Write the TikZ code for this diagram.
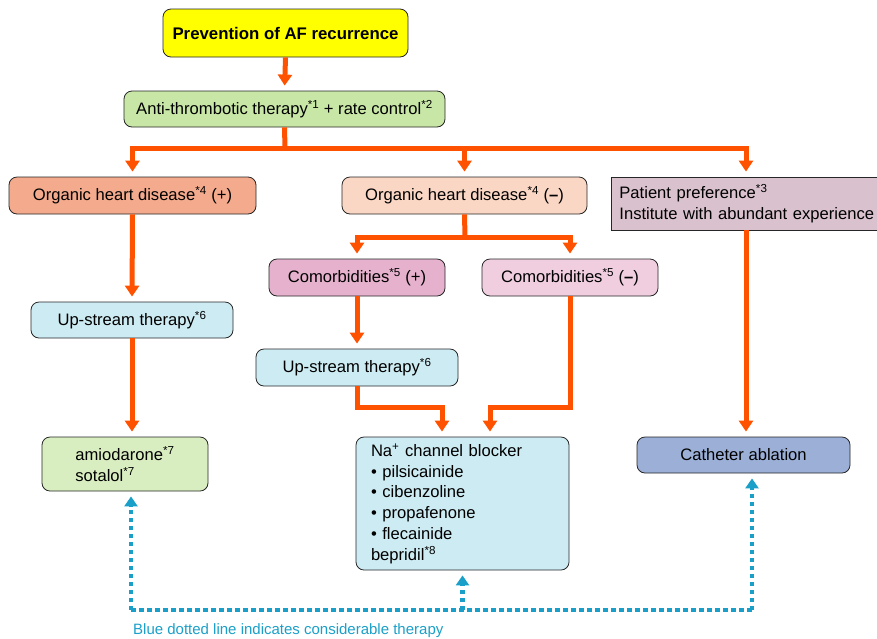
\documentclass[tikz,border=0pt]{standalone}
\usepackage{fontspec}
\setmainfont{Liberation Sans}
\usetikzlibrary{arrows.meta}
\definecolor{orng}{HTML}{FF5200}
\definecolor{blu}{HTML}{1AA0C8}
\definecolor{cYel}{HTML}{FFFF00}
\definecolor{cAnti}{HTML}{C8E6A5}
\definecolor{cOrgP}{HTML}{F4AA8C}
\definecolor{cOrgM}{HTML}{FAD6C4}
\definecolor{cPat}{HTML}{D9C2CE}
\definecolor{cComP}{HTML}{E6B1CD}
\definecolor{cComM}{HTML}{F0CEE0}
\definecolor{cUp}{HTML}{CDEBF2}
\definecolor{cAmi}{HTML}{D9EEC0}
\definecolor{cCath}{HTML}{9BAFD7}
\newcommand{\sps}[1]{\textsuperscript{*#1}}
\begin{document}
\begin{tikzpicture}[x=1pt,y=-1pt,
  box/.style={draw=black!85, line width=0.8pt, rounded corners=8pt, inner sep=0pt,
    font=\fontsize{16.6}{20.8}\selectfont},
  oarrow/.style={draw=orng, line width=5pt, shorten >=5pt,
    -{Triangle[length=11pt,width=14pt]}},
  oline/.style={draw=orng, line width=5pt},
  bline/.style={draw=blu, line width=4.5pt, dash pattern=on 4.5pt off 3.5pt},
  barrow/.style={bline, shorten >=5pt, -{Triangle[length=10pt,width=13pt]}}
]
\useasboundingbox (0,0) rectangle (877,638);

\node[box, fill=cYel, minimum width=245pt, minimum height=48pt,
  font=\fontsize{16.8}{19}\selectfont\bfseries] (top) at (285.5,33) {Prevention of AF recurrence};
\node[box, fill=cAnti, minimum width=321pt, minimum height=36pt] (anti) at (284.5,109)
  {Anti-thrombotic therapy\sps{1} + rate control\sps{2}};

\node[box, fill=cOrgP, minimum width=247pt, minimum height=37pt] (orgp) at (132.5,195.5)
  {Organic heart disease\sps{4} (+)};
\node[box, fill=cOrgM, minimum width=245pt, minimum height=37pt] (orgm) at (464.5,195.5)
  {Organic heart disease\sps{4} (\textbf{–})};
\node[box, rounded corners=0pt, fill=cPat, minimum height=53pt,
  text width=270pt, inner xsep=8pt, align=left, anchor=west] (pat) at (611,203.5)
  {Patient preference\sps{3}\\Institute with abundant experience};

\node[box, fill=cComP, minimum width=176pt, minimum height=37pt] (comp) at (357,277.5)
  {Comorbidities\sps{5} (+)};
\node[box, fill=cComM, minimum width=176pt, minimum height=37pt] (comm) at (570,277.5)
  {Comorbidities\sps{5} (\textbf{–})};

\node[box, fill=cUp, minimum width=202pt, minimum height=36pt] (up1) at (132,320)
  {Up-stream therapy\sps{6}};
\node[box, fill=cUp, minimum width=202pt, minimum height=37pt] (up2) at (357,367.5)
  {Up-stream therapy\sps{6}};

\node[box, fill=cAmi, minimum width=166pt, minimum height=54pt, align=left] (amio) at (125,464)
  {amiodarone\sps{7}\\sotalol\sps{7}};
\node[box, fill=cUp, minimum height=133pt, text width=183pt, inner xsep=15pt, align=left]
  (na) at (462.5,503.5)
  {Na\textsuperscript{+} channel blocker\\• pilsicainide\\• cibenzoline\\• propafenone\\• flecainide\\bepridil\sps{8}};
\node[box, fill=cCath, minimum width=213pt, minimum height=36pt] (cath) at (743.5,455)
  {Catheter ablation};

% orange connectors
\coordinate (hub) at (285,148);
\coordinate (hub2) at (465,237);
\coordinate (patx) at (746,0);
\draw[oarrow] (top.south) -- (anti.north);
\draw[oline] (anti.south) -- (hub);
\draw[oarrow] (hub) -| (orgp.north);
\draw[oarrow] (hub) -| (orgm.north);
\draw[oarrow] (hub) -| (patx |- pat.north);
\draw[oline] (orgm.south) -- (hub2);
\draw[oarrow] (hub2) -| (comp.north);
\draw[oarrow] (hub2) -| (comm.north);
\draw[oarrow] (orgp.south) -- (up1.north);
\draw[oarrow] (up1.south) -- (up1.south |- amio.north);
\draw[oarrow] (comp.south) -- (up2.north);
\coordinate (j1) at (357,407);
\coordinate (j2) at (570,407);
\draw[oarrow] (up2.south) -- (j1) -| ([xshift=-20.5pt]na.north);
\draw[oarrow] (comm.south) -- (j2) -| ([xshift=27.5pt]na.north);
\draw[oarrow] (patx |- pat.south) -- (patx |- cath.north);

% blue dotted connectors
\coordinate (bl) at (131,610);
\coordinate (bm) at (462.5,610);
\coordinate (br) at (752,610);
\draw[bline] (bl) -- (br);
\draw[barrow] (bl) -- (bl |- amio.south);
\draw[barrow] (bm) -- (na.south);
\draw[barrow] (br) -- (br |- cath.south);

\node[anchor=west, text=blu, inner sep=0pt, font=\fontsize{15}{17}\selectfont] (cap) at (133,631)
  {Blue dotted line indicates considerable therapy};
\end{tikzpicture}
\end{document}
